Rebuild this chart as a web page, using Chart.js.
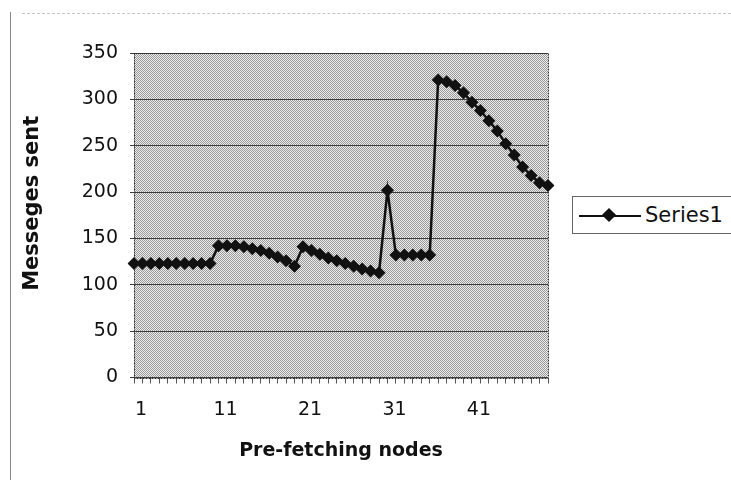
<!DOCTYPE html>
<html><head><meta charset="utf-8">
<script src="https://cdn.jsdelivr.net/npm/chart.js@4.4.0/dist/chart.umd.min.js"></script>
<style>
html,body{margin:0;padding:0;background:#fff;}
#wrap{position:relative;width:731px;height:491px;overflow:hidden;font-family:"DejaVu Sans",sans-serif;}
#c{position:absolute;left:0;top:0;}
#frameTop{position:absolute;left:22px;top:13px;width:709px;height:0;border-top:1px dashed #c4c4c4;}
#frameLeft{position:absolute;left:10px;top:12px;width:0;height:468px;border-left:1px solid #888;}
#legend{position:absolute;left:572px;top:196px;width:180px;height:36px;border:1px solid #666;background:#fff;}
#legend .ln{position:absolute;left:6px;top:18px;width:62px;height:2px;background:#111;}
#legend .dm{position:absolute;left:31px;top:13px;width:10px;height:10px;background:#111;transform:rotate(45deg);}
#legend .tx{position:absolute;left:72px;top:6px;font-size:21px;color:#111;line-height:24px;}
</style>
</head><body>
<div id="wrap">
<canvas id="c" width="731" height="491"></canvas>
<div id="frameTop"></div>
<div id="frameLeft"></div>
<div id="legend"><div class="ln"></div><div class="dm"></div><div class="tx" id="legText"></div></div>
</div>
<script>
const categories = ["1","2","3","4","5","6","7","8","9","10",
 "11","12","13","14","15","16","17","18","19","20",
 "21","22","23","24","25","26","27","28","29","30",
 "31","32","33","34","35","36","37","38","39","40",
 "41","42","43","44","45","46","47","48","49","50"];
const seriesName = "Series1";
const series1 = [123,123,123,123,123,123,123,123,123,123,
 142,142,142,141,139,137,134,130,126,120,
 141,137,133,129,126,123,120,117,115,113,
 202,132,132,132,132,132,
 321,319,315,307,297,288,277,266,252,240,227,218,210,207];
const xTickLabels = ["1","11","21","31","41"];
const yTicks = [0,50,100,150,200,250,300,350];
const xTitle = 'Pre-fetching nodes';
const yTitle = 'Messeges sent';

document.getElementById('legText').textContent = seriesName;

const pc = document.createElement('canvas');
pc.width = 2; pc.height = 2;
const pctx = pc.getContext('2d');
pctx.fillStyle = '#eeeeee'; pctx.fillRect(0,0,2,2);
pctx.fillStyle = '#989898'; pctx.fillRect(0,0,1,1); pctx.fillRect(1,1,1,1);

const fam = '"DejaVu Sans", sans-serif';
const plotBg = {
  id:'plotBg',
  beforeDraw(chart){
    const {ctx, chartArea:a} = chart;
    ctx.save();
    ctx.fillStyle = ctx.createPattern(pc,'repeat');
    ctx.fillRect(a.left, a.top, a.right-a.left, a.bottom-a.top);
    ctx.restore();
  },
  beforeDatasetsDraw(chart){
    const {ctx, chartArea:a} = chart;
    ctx.save();
    ctx.strokeStyle = '#333';
    ctx.lineWidth = 1;
    ctx.setLineDash([2,1]);
    ctx.strokeRect(Math.round(a.left)+0.5, Math.round(a.top)+0.5, Math.round(a.right-a.left), Math.round(a.bottom-a.top));
    ctx.restore();
  },
  afterDraw(chart){
    const {ctx, chartArea:a} = chart;
    ctx.save();
    ctx.translate(33, (a.top + a.bottom)/2 - 12);
    ctx.rotate(-Math.PI/2);
    ctx.font = 'bold 21px ' + fam;
    ctx.fillStyle = '#111';
    ctx.textAlign = 'center';
    ctx.textBaseline = 'middle';
    ctx.fillText(yTitle, 0, 0);
    ctx.restore();
  }
};

const font = {family:fam, size:19};
new Chart(document.getElementById('c'), {
  type:'line',
  data:{labels:categories, datasets:[{
    label:seriesName, data:series1,
    borderColor:'#111', backgroundColor:'#111', borderWidth:2.5,
    pointStyle:'rectRot', pointRadius:6.5, pointBorderWidth:0,
    pointBackgroundColor:'#111', tension:0
  }]},
  plugins:[plotBg],
  options:{
    responsive:false, animation:false, devicePixelRatio:1,
    layout:{padding:{left:22, top:53, right:183, bottom:29}},
    plugins:{legend:{display:false}, tooltip:{enabled:false}},
    scales:{
      x:{
        type:'category', offset:false,
        grid:{drawOnChartArea:false, drawTicks:true, tickLength:6, color:'#555'},
        border:{display:false},
        ticks:{autoSkip:false, maxRotation:0, minRotation:0, padding:15, labelOffset:7, color:'#111', font:font,
          callback(v, i){ const l = categories[i]; return xTickLabels.includes(l) ? l : ''; }},
        title:{display:true, text:xTitle, color:'#111', padding:0,
          font:{family:fam, size:19, weight:'bold'}},
        afterFit(s){ s.height = 84.5; }
      },
      y:{
        min:0, max:350,
        afterBuildTicks(s){ s.ticks = yTicks.map(v=>({value:v})); },
        grid:{color:'#3c3c3c', lineWidth:1, tickLength:4, drawTicks:true},
        border:{display:false},
        ticks:{padding:12, color:'#111', font:font},
        afterFit(s){ s.width = 112; }
      }
    }
  }
});
</script>
</body></html>
